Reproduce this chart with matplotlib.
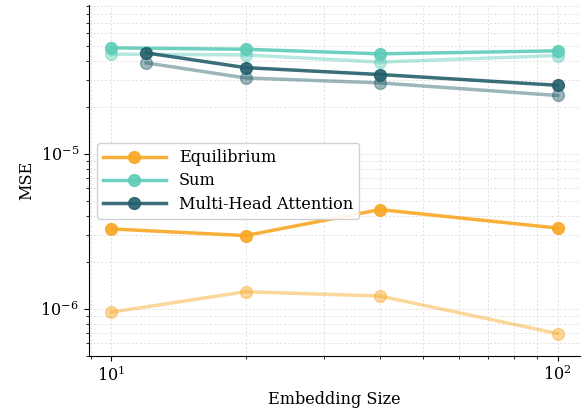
import matplotlib
matplotlib.use("Agg")
import matplotlib.pyplot as plt

plt.rcParams['font.family'] = ['DejaVu Serif']
plt.rcParams['mathtext.fontset'] = 'dejavuserif'

x_main = [10, 20, 40, 100]
x_mha = [12, 20, 40, 100]

eq_solid = [3.28e-6, 2.97e-6, 4.37e-6, 3.32e-6]
eq_faded = [9.52e-7, 1.29e-6, 1.21e-6, 6.93e-7]
sum_solid = [4.83e-5, 4.73e-5, 4.42e-5, 4.62e-5]
sum_faded = [4.40e-5, 4.35e-5, 3.91e-5, 4.31e-5]
mha_solid = [4.48e-5, 3.60e-5, 3.25e-5, 2.77e-5]
mha_faded = [3.86e-5, 3.09e-5, 2.87e-5, 2.38e-5]

c_eq = '#F9A825'
c_sum = '#5ECCB9'
c_mha = '#245F6B'

fs = 11.6
fig = plt.figure(figsize=(5.84, 4.09), dpi=100)
ax = fig.add_axes([0.152, 0.130, 0.841, 0.858])

kw = dict(lw=2.5, marker='o', ms=8.5)
ax.plot(x_main, eq_faded, color=c_eq, alpha=0.45, **kw)
ax.plot(x_main, sum_faded, color=c_sum, alpha=0.45, **kw)
ax.plot(x_mha, mha_faded, color=c_mha, alpha=0.45, **kw)
ax.plot(x_main, eq_solid, color=c_eq, alpha=0.9, label='Equilibrium', **kw)
ax.plot(x_main, sum_solid, color=c_sum, alpha=0.9, label='Sum', **kw)
ax.plot(x_mha, mha_solid, color=c_mha, alpha=0.9, label='Multi-Head Attention', **kw)

ax.set_xscale('log')
ax.set_yscale('log')
ax.set_ylim(10**-6.303, 10**-4.039)
ax.set_xlabel('Embedding Size', fontsize=fs)
ax.set_ylabel('MSE', fontsize=fs)
ax.tick_params(labelsize=fs)
ax.grid(True, which='both', ls=(0, (2, 2)), color='#d8d8d8', lw=0.7, alpha=0.8)
ax.spines['top'].set_visible(False)
ax.spines['right'].set_visible(False)
ax.legend(loc='upper left', bbox_to_anchor=(0.016, 0.607), borderaxespad=0,
          fontsize=fs, framealpha=0.9, handlelength=3.9, labelspacing=0.38)

fig.savefig('out.png', dpi=100)
